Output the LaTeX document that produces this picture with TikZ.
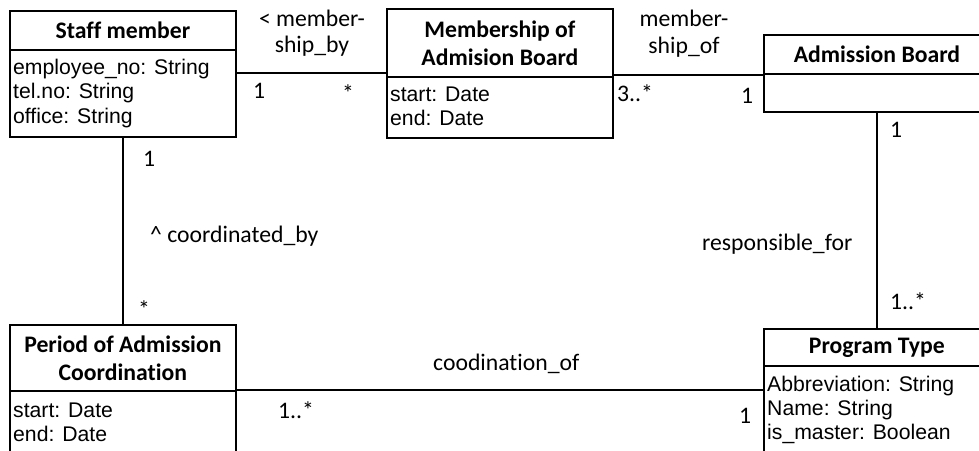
\documentclass[tikz,border=0pt]{standalone}
\usepackage{fontspec}
\setmainfont[Ligatures={NoCommon}]{Carlito}
\newfontfamily\attrfont{Liberation Sans}
\begin{document}
\begin{tikzpicture}[x=1pt, y=-1pt,
  box/.style={draw, line width=1.8pt, inner sep=0pt, anchor=north west},
  head/.style={box, font=\fontsize{23.7}{28}\selectfont\bfseries, align=center},
  attrline/.style={inner sep=0pt, anchor=base west, font=\attrfont\fontsize{21.2}{24.5}\selectfont},
  lbl/.style={inner sep=0pt, font=\fontsize{23.7}{28}\selectfont},
  assoc/.style={line width=1.8pt}]
\useasboundingbox (0,0) rectangle (979,450);
\clip (0,0) rectangle (979,450);

% Staff member
\node[head, minimum width=226pt, minimum height=39pt] (staffH) at (9,10) {Staff member};
\node[box, minimum width=226pt, minimum height=87pt] (staffA) at (9,49) {};
\node[attrline] (staffA1) at (13,74) {employee\_no: String};
\node[attrline] (staffA2) at (13,98.5) {tel.no: String};
\node[attrline] (staffA3) at (13,123) {office: String};

% Membership of Admision Board
\node[head, minimum width=226pt, minimum height=68pt] (memH) at (386,8) {Membership of\\Admision Board};
\node[box, minimum width=226pt, minimum height=61pt] (memA) at (386,76) {};
\node[attrline] (memA1) at (390,101) {start: Date};
\node[attrline] (memA2) at (390,125.5) {end: Date};

% Admission Board
\node[head, minimum width=226pt, minimum height=39pt] (admH) at (763,34) {Admission Board};
\node[box, minimum width=226pt, minimum height=38pt] (admA) at (763,73) {};

% Period of Admission Coordination
\node[head, minimum width=226pt, minimum height=66pt] (perH) at (9,324) {Period of Admission\\Coordination};
\node[box, minimum width=226pt, minimum height=80pt] (perA) at (9,390) {};
\node[attrline] (perA1) at (13,417) {start: Date};
\node[attrline] (perA2) at (13,441) {end: Date};

% Program Type
\node[head, minimum width=226pt, minimum height=37pt] (progH) at (763,328) {Program Type};
\node[box, minimum width=226pt, minimum height=100pt] (progA) at (763,365) {};
\node[attrline] (progA1) at (767,391) {Abbreviation: String};
\node[attrline] (progA2) at (767,415) {Name: String};
\node[attrline] (progA3) at (767,439) {is\_master: Boolean};

% Associations
\draw[assoc] (staffA.east |- 0,73) -- (memH.west |- 0,73);
\draw[assoc] (memH.east |- admH.south west) -- (admH.south west);
\draw[assoc] (staffA.south) -- (perH.north);
\draw[assoc] (admA.south) -- (progH.north);
\draw[assoc] (perA.north east) -- (progA.west |- perA.north east);

% Association names and multiplicities
\node[lbl, anchor=base] (mbyA) at (312,26) {< member-};
\node[lbl, anchor=base] (mbyB) at (312,52) {ship\_by};
\node[lbl, anchor=base west] (mbyS) at (253,98) {1};
\node[lbl] (mbyM) at (348,93) {*};

\node[lbl, anchor=base] (mofA) at (684,26) {member-};
\node[lbl, anchor=base] (mofB) at (684,53) {ship\_of};
\node[lbl, anchor=base west] (mofM) at (617,101) {3..*};
\node[lbl, anchor=base west] (mofS) at (741,103) {1};

\node[lbl, anchor=base west] (cbyS) at (143,166) {1};
\node[lbl, anchor=base west] (cbyN) at (150,242) {\textasciicircum\ coordinated\_by};
\node[lbl] (cbyM) at (144,309) {*};

\node[lbl, anchor=base west] (rspS) at (890,137) {1};
\node[lbl, anchor=base west] (rspN) at (702,250) {responsible\_for};
\node[lbl, anchor=base west] (rspM) at (890,309) {1..*};

\node[lbl, anchor=base west] (cofN) at (433,370) {coodination\_of};
\node[lbl, anchor=base west] (cofM) at (278,418) {1..*};
\node[lbl, anchor=base west] (cofS) at (739,423) {1};
\end{tikzpicture}
\end{document}
